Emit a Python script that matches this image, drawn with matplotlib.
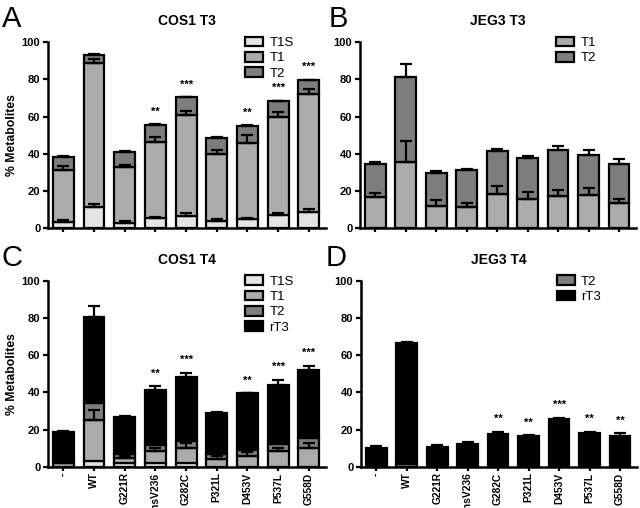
import numpy as np
import matplotlib
matplotlib.use('Agg')
import matplotlib.pyplot as plt

plt.rcParams['font.family'] = ['Liberation Sans', 'DejaVu Sans']

groups = ['-', 'WT', 'G221R', 'insV236', 'G282C', 'P321L', 'D453V', 'P537L', 'G558D']
groups_d = ['-', 'WT', 'G221R', 'InsV236', 'G282C', 'P321L', 'D453V', 'P537L', 'G558D']

# A: COS1 T3 (segment heights, bottom to top)
a_t1s = [3.4, 11.5, 3.0, 5.2, 6.6, 3.8, 4.7, 7.0, 8.8]
a_t1 = [27.8, 77.4, 29.6, 41.0, 54.2, 36.0, 40.8, 52.9, 63.2]
a_t2 = [7.2, 4.3, 8.4, 9.5, 9.5, 8.8, 9.5, 8.4, 7.6]
a_err_t1s = [0.9, 1.4, 0.9, 0.7, 1.6, 0.9, 0.5, 0.9, 1.4]
a_err_t1 = [2.1, 1.8, 1.6, 2.7, 2.1, 2.1, 4.5, 2.5, 2.6]
a_err_t2 = [0.3, 0.3, 0.4, 0.3, 0.3, 0.3, 0.3, 0.3, 0.3]
a_stars = ['', '', '', '**', '***', '', '**', '***', '***']

# B: JEG3 T3
b_t1 = [16.7, 35.5, 11.8, 11.3, 18.5, 15.8, 17.2, 17.6, 13.4]
b_t2 = [17.9, 46.0, 17.9, 19.7, 22.9, 22.0, 24.9, 21.8, 21.2]
b_err_t1 = [2.1, 11.6, 3.1, 2.3, 3.9, 3.6, 3.1, 3.9, 2.4]
b_err_t2 = [0.9, 6.5, 0.9, 0.9, 0.9, 1.1, 1.8, 2.4, 2.7]

# C: COS1 T4
c_t1s = [0.0, 3.2, 2.2, 2.0, 2.2, 0.0, 0.0, 0.0, 0.0]
c_t1 = [2.3, 21.9, 2.5, 6.3, 8.0, 4.0, 6.1, 8.4, 10.4]
c_t2 = [0.0, 9.5, 2.1, 3.2, 3.8, 2.8, 2.9, 4.0, 5.0]
c_rt3 = [16.7, 46.2, 20.1, 30.1, 34.5, 22.4, 30.5, 31.8, 36.7]
c_err_t1 = [0.0, 5.4, 1.0, 1.7, 2.5, 1.9, 2.0, 2.0, 2.3]
c_err_rt3 = [0.3, 5.9, 0.6, 1.8, 2.1, 0.4, 0.3, 2.7, 2.3]
c_stars = ['', '', '', '**', '***', '', '**', '***', '***']

# D: JEG3 T4
d_t2 = [0.0, 1.4, 0.0, 0.0, 0.0, 0.0, 0.0, 0.0, 0.0]
d_rt3 = [10.4, 65.0, 10.8, 12.2, 17.6, 16.5, 26.0, 18.0, 16.7]
d_err_rt3 = [0.7, 0.7, 0.9, 0.9, 1.3, 0.6, 0.4, 0.9, 1.3]
d_stars = ['', '', '', '', '**', '**', '***', '**', '**']

colors = {'T1S': '#e4e4e4', 'T1': '#ababab', 'T2': '#7d7d7d', 'rT3': '#000000'}


def panel(ax, segs, errs, stars, title, xlabels, ylabel=True):
    x = np.arange(len(groups))
    bottom = np.zeros(len(x))
    tops = {}
    for name, vals in segs:
        vals = np.array(vals)
        ax.bar(x, vals, 0.68, bottom=bottom, color=colors[name], edgecolor='black',
               linewidth=1.6, label=name, zorder=2)
        bottom = bottom + vals
        tops[name] = bottom.copy()
    top_err = bottom.copy()
    for name, e in errs:
        e = np.array(e)
        m = e > 0
        ax.errorbar(x[m], tops[name][m], yerr=[np.zeros(m.sum()), e[m]], fmt='none',
                    ecolor='black', elinewidth=1.6, capsize=4.5, capthick=1.6, zorder=3)
        if name == segs[-1][0]:
            top_err = bottom + e
    for xi, s, t in zip(x, stars, top_err):
        if s:
            ax.text(xi, t + 4.0, s, ha='center', va='bottom', fontsize=8, fontweight='bold')
    ax.set_xlim(-0.5, 8.55)
    ax.set_ylim(0, 100)
    ax.set_yticks([0, 20, 40, 60, 80, 100])
    ax.set_xticks(x)
    if xlabels is None:
        ax.set_xticklabels([])
    else:
        ax.set_xticklabels(xlabels, rotation=90, fontweight='bold', fontsize=7.4)
    for lab in ax.get_yticklabels():
        lab.set_fontweight('bold')
        lab.set_fontsize(8)
    ax.spines['top'].set_visible(False)
    ax.spines['right'].set_visible(False)
    ax.spines['left'].set_linewidth(1.8)
    ax.spines['bottom'].set_linewidth(1.8)
    ax.tick_params(axis='y', width=1.6, length=3.5, pad=2)
    ax.tick_params(axis='x', width=1.6, length=3, pad=1)
    ax.set_title(title, fontweight='bold', fontsize=10, pad=12)
    if ylabel:
        ax.set_ylabel('% Metabolites', fontweight='bold', fontsize=8.8, labelpad=3)
    ax.legend(loc='upper left', bbox_to_anchor=(0.71, 1.03), frameon=False, fontsize=9.5,
              handlelength=1.35, handleheight=0.75, labelspacing=0.22, handletextpad=0.5,
              borderpad=0, borderaxespad=0)


fig = plt.figure(figsize=(6.4, 5.08), dpi=100)
axA = fig.add_axes([0.075, 0.551, 0.434, 0.366])
axB = fig.add_axes([0.5625, 0.551, 0.431, 0.366])
axC = fig.add_axes([0.075, 0.081, 0.434, 0.366])
axD = fig.add_axes([0.564, 0.081, 0.431, 0.366])

panel(axA, [('T1S', a_t1s), ('T1', a_t1), ('T2', a_t2)],
      [('T1S', a_err_t1s), ('T1', a_err_t1), ('T2', a_err_t2)],
      a_stars, 'COS1 T3', None)
panel(axB, [('T1', b_t1), ('T2', b_t2)],
      [('T1', b_err_t1), ('T2', b_err_t2)],
      [''] * 9, 'JEG3 T3', None, ylabel=False)
panel(axC, [('T1S', c_t1s), ('T1', c_t1), ('T2', c_t2), ('rT3', c_rt3)],
      [('T1', c_err_t1), ('rT3', c_err_rt3)],
      c_stars, 'COS1 T4', groups)
panel(axD, [('T2', d_t2), ('rT3', d_rt3)],
      [('rT3', d_err_rt3)],
      d_stars, 'JEG3 T4', groups_d, ylabel=False)

for letter, lx, ly in [('A', 0.003, 0.946), ('B', 0.513, 0.946),
                       ('C', 0.003, 0.476), ('D', 0.509, 0.476)]:
    fig.text(lx, ly, letter, fontsize=21, ha='left', va='baseline')

fig.savefig('out.png', dpi=100)
